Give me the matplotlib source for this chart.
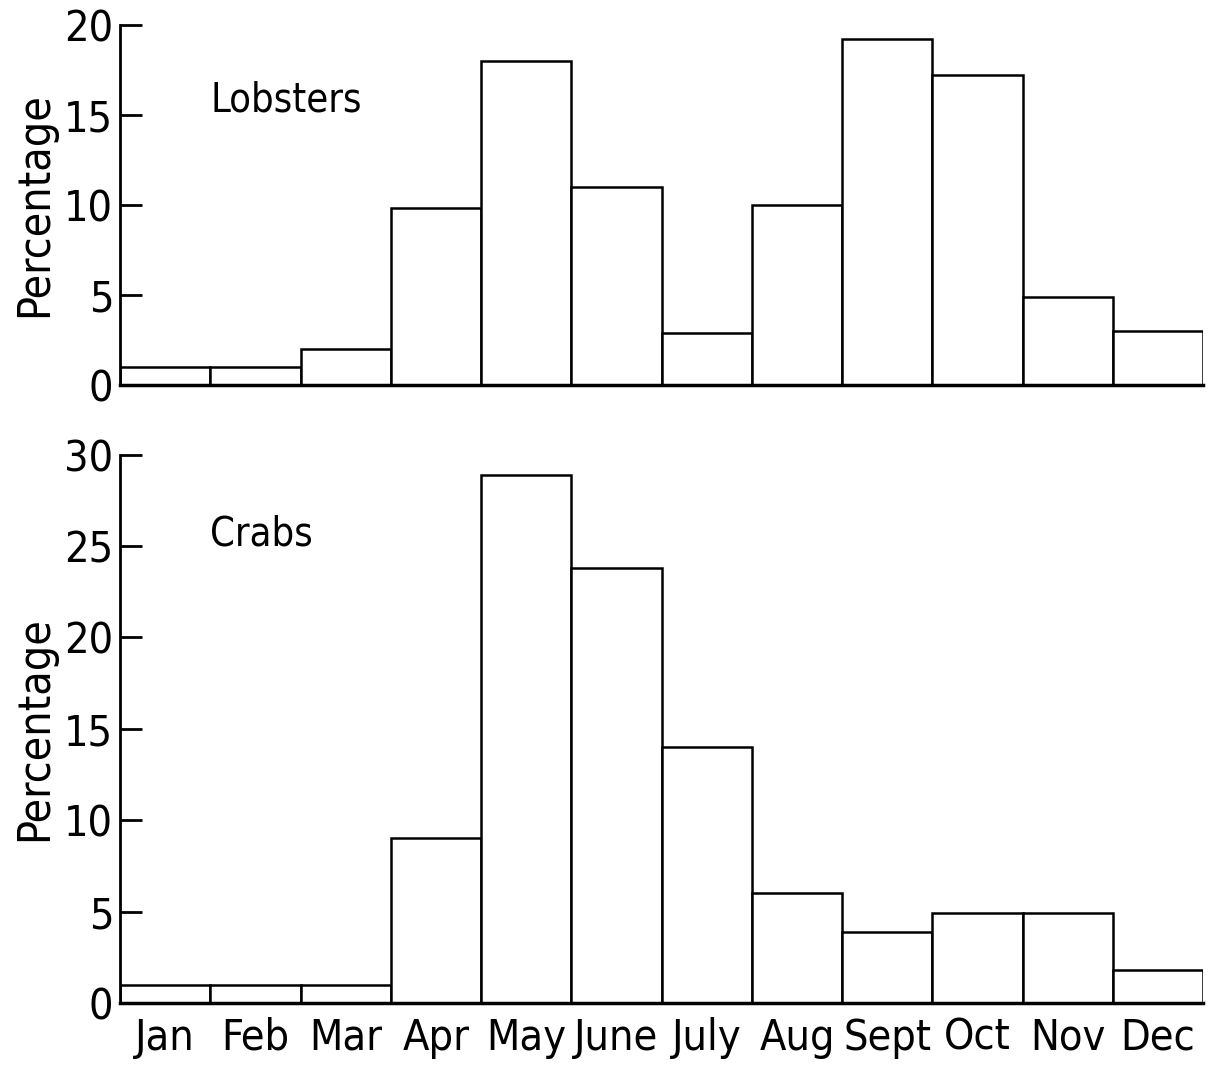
import matplotlib
matplotlib.use("Agg")
import matplotlib.pyplot as plt
import numpy as np

months = ["Jan", "Feb", "Mar", "Apr", "May", "June", "July", "Aug", "Sept", "Oct", "Nov", "Dec"]
lobsters = [1.0, 1.0, 2.0, 9.8, 18.0, 11.0, 2.9, 10.0, 19.2, 17.2, 4.9, 3.0]
crabs = [1.0, 1.0, 1.0, 9.0, 28.9, 23.8, 14.0, 6.0, 3.9, 4.9, 4.9, 1.8]

plt.rcParams['font.family'] = ['DejaVu Sans']
plt.rcParams['font.stretch'] = 'condensed'
plt.rcParams['font.weight'] = 'light'

fig = plt.figure(figsize=(12.14, 10.67), dpi=100)
ax1 = fig.add_axes([0.099, 0.639, 0.892, 0.338])
ax2 = fig.add_axes([0.099, 0.060, 0.892, 0.514])

x = np.arange(len(months))


def style(ax, data, ymax, label, label_y):
    ax.bar(x, data, width=1.0, align="edge", color="white",
           edgecolor="black", linewidth=1.8)
    ax.set_xlim(0, len(months))
    ax.set_ylim(0, ymax)
    ax.set_yticks(np.arange(0, ymax + 1, 5))
    ax.spines["top"].set_visible(False)
    ax.spines["right"].set_visible(False)
    ax.spines["left"].set_linewidth(2)
    ax.spines["bottom"].set_linewidth(2.5)
    ax.tick_params(axis="y", direction="in", length=16, width=2,
                   labelsize=31, pad=5)
    ax.set_ylabel("Percentage", fontsize=32, labelpad=6)
    ax.text(1.0, label_y, label, fontsize=28.5, ha="left", va="center")


style(ax1, lobsters, 20, "Lobsters", 15.8)
ax1.set_xticks([])

style(ax2, crabs, 30, "Crabs", 25.6)
ax2.set_xticks(x + 0.5)
ax2.set_xticklabels(months)
ax2.tick_params(axis="x", length=0, labelsize=31, pad=10)

fig.savefig("out.png", dpi=100)
